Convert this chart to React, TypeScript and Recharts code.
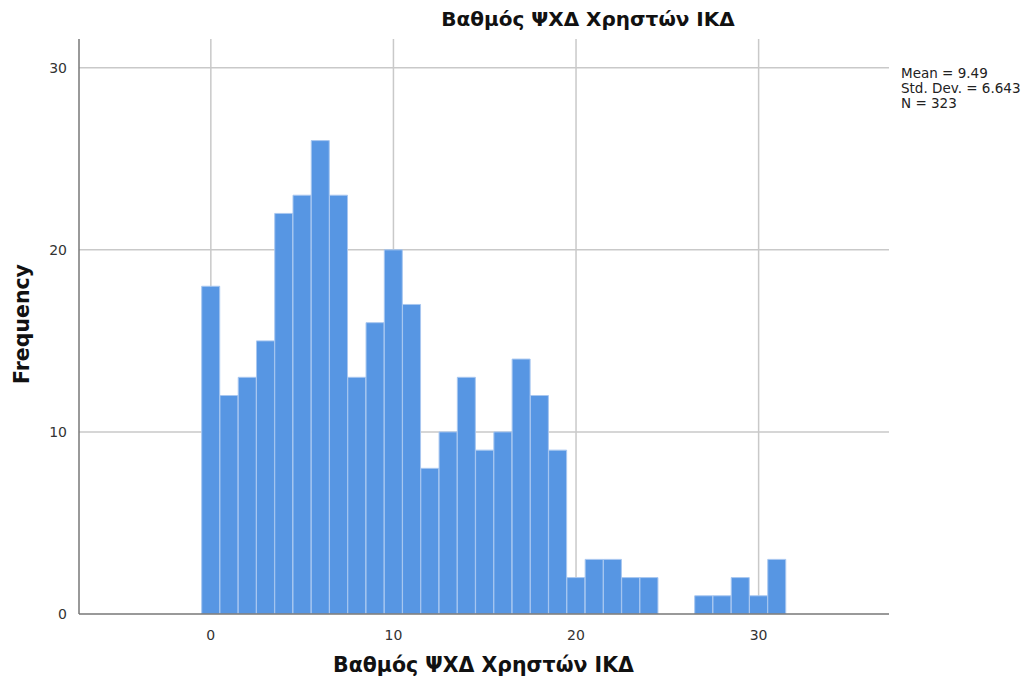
import { BarChart, Bar, XAxis, YAxis, CartesianGrid } from "recharts";

// bin centres (score) and counts per bin
const scores = [
    0, 1, 2, 3, 4, 5, 6, 7, 8, 9, 10, 11, 12, 13, 14, 15,
    16, 17, 18, 19, 20, 21, 22, 23, 24, 25, 26, 27, 28, 29, 30, 31,
];
const counts = [
    18, 12, 13, 15, 22, 23, 26, 23, 13, 16, 20, 17, 8, 10, 13, 9,
    10, 14, 12, 9, 2, 3, 3, 2, 2, 0, 0, 1, 1, 2, 1, 3,
];
const xTicks = [0, 10, 20, 30];
const yTicks = [0, 10, 20, 30];
const stats = ["Mean = 9.49", "Std. Dev. = 6.643", "N = 323"];

const data = scores.map((x, i) => ({ x, count: counts[i] }));

const font = "'DejaVu Sans', Verdana, sans-serif";

export default function App() {
    return (
        <div
            style={{
                position: "absolute",
                left: 0,
                top: 0,
                width: 1034,
                height: 688,
                background: "#fff",
                fontFamily: font,
            }}
        >
            <div
                style={{
                    position: "absolute",
                    left: 0,
                    width: 1176,
                    top: 7,
                    textAlign: "center",
                    fontWeight: "bold",
                    fontSize: 20,
                    color: "#111",
                }}
            >
                Βαθμός ΨΧΔ Χρηστών ΙΚΔ
            </div>
            <BarChart
                width={1034}
                height={688}
                data={data}
                barCategoryGap={0}
                barGap={0}
                margin={{ top: 39, right: 145, left: 29, bottom: 44 }}
            >
                <CartesianGrid
                    stroke="#c9c9c9"
                    strokeWidth={1.5}
                    horizontalValues={yTicks.slice(1)}
                    verticalValues={xTicks}
                />
                <XAxis
                    dataKey="x"
                    type="number"
                    domain={[-7.22, 37.14]}
                    ticks={xTicks}
                    allowDataOverflow
                    tickLine={false}
                    axisLine={{ stroke: "#777", strokeWidth: 1.5 }}
                    tick={{ fontSize: 14, fill: "#333", fontFamily: font }}
                    tickMargin={10}
                    height={30}
                />
                <YAxis
                    type="number"
                    domain={[0, 31.58]}
                    ticks={yTicks}
                    allowDataOverflow
                    tickLine={false}
                    axisLine={{ stroke: "#777", strokeWidth: 1.5 }}
                    tick={{ fontSize: 14, fill: "#333", fontFamily: font }}
                    tickMargin={6}
                    width={50}
                />
                <Bar
                    dataKey="count"
                    fill="#5796e3"
                    stroke="#a8c7f0"
                    strokeWidth={1}
                    isAnimationActive={false}
                />
            </BarChart>
            <div
                style={{
                    position: "absolute",
                    left: 0,
                    width: 967,
                    top: 653,
                    textAlign: "center",
                    fontWeight: "bold",
                    fontSize: 20.5,
                    color: "#111",
                }}
            >
                Βαθμός ΨΧΔ Χρηστών ΙΚΔ
            </div>
            <div
                style={{
                    position: "absolute",
                    left: 22 - 100,
                    top: 325 - 13,
                    width: 200,
                    textAlign: "center",
                    transform: "rotate(-90deg)",
                    fontWeight: "bold",
                    fontSize: 20.5,
                    color: "#111",
                }}
            >
                Frequency
            </div>
            <div
                style={{
                    position: "absolute",
                    left: 901,
                    top: 66,
                    fontSize: 13.5,
                    lineHeight: "15px",
                    color: "#222",
                    whiteSpace: "nowrap",
                }}
            >
                {stats.map((s) => (
                    <div key={s}>{s}</div>
                ))}
            </div>
        </div>
    );
}
